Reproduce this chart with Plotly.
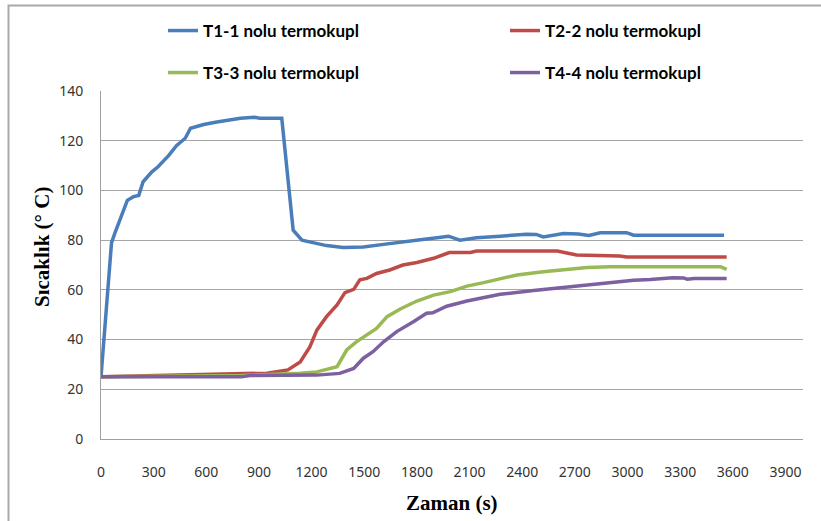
import plotly.graph_objects as go

# ---- data ----
t1_time = [0, 60, 80, 120, 150, 185, 215, 240, 290, 325, 385, 430, 480, 510, 585, 660, 735, 795, 875, 905,
           1030, 1095, 1145, 1200, 1285, 1380, 1495, 1610, 1720, 1820, 1915, 1980, 2045, 2140, 2275, 2425,
           2480, 2520, 2635, 2720, 2780, 2845, 2995, 3035, 3550]
t1_temp = [25, 79, 83, 90, 96, 97.5, 98, 103.5, 107.5, 109.5, 114, 118, 121, 125, 126.5, 127.5, 128.3, 129, 129.4, 129,
           129, 84, 80, 79.2, 77.8, 77, 77.2, 78.3, 79.4, 80.2, 81, 81.6, 80, 81, 81.6, 82.4,
           82.3, 81.3, 82.7, 82.5, 81.9, 83, 83, 82, 82]

t2_time = [0, 400, 750, 945, 1065, 1135, 1190, 1230, 1285, 1345, 1390, 1440, 1475, 1515, 1570, 1645, 1720,
           1800, 1895, 1985, 2105, 2140, 2600, 2710, 2955, 2995, 3565]
t2_temp = [25, 25.5, 26, 26.5, 27.8, 31, 37, 43.8, 49.2, 53.9, 58.9, 60.2, 64, 64.6, 66.6, 68, 70,
           71, 72.7, 75, 75, 75.6, 75.6, 74, 73.6, 73.2, 73.2]

t3_time = [0, 800, 1135, 1230, 1345, 1400, 1455, 1515, 1570, 1630, 1705, 1800, 1895, 1990, 2085, 2180, 2275,
           2370, 2520, 2655, 2770, 2900, 3530, 3565]
t3_temp = [25, 25.5, 26.5, 27, 29.1, 35.8, 39.1, 41.8, 44.5, 49.2, 52.3, 55.5, 57.9, 59.3, 61.5, 62.9, 64.4,
           66, 67.3, 68.2, 69, 69.3, 69.3, 68.2]

t4_time = [0, 800, 850, 1230, 1360, 1440, 1495, 1550, 1610, 1685, 1780, 1855, 1890, 1970, 2085, 2275, 2465,
           2690, 2845, 3035, 3130, 3260, 3320, 3340, 3380, 3565]
t4_temp = [25, 25, 25.5, 25.7, 26.4, 28.4, 32.5, 35.1, 39.1, 43.2, 47.2, 50.6, 50.8, 53.4, 55.5, 58.2, 59.7,
           61.3, 62.6, 63.9, 64.2, 64.9, 64.8, 64.3, 64.6, 64.6]

names = ["T1-1 nolu termokupl", "T2-2 nolu termokupl", "T3-3 nolu termokupl", "T4-4 nolu termokupl"]
colors = ["#4A7EBB", "#BE4B48", "#98B954", "#7D60A0"]

x_ticks = list(range(0, 4000, 300))
y_ticks = list(range(0, 141, 20))

# ---- figure ----
fig = go.Figure()
series = [(t1_time, t1_temp), (t2_time, t2_temp), (t3_time, t3_temp), (t4_time, t4_temp)]
legend_ids = ["legend", "legend2", "legend3", "legend4"]
for (xs, ys), name, col, lg in zip(series, names, colors, legend_ids):
    fig.add_trace(go.Scatter(x=xs, y=ys, mode="lines", name=name, legend=lg,
                             line=dict(color=col, width=3.5)))

L, R, T, B = 101, 18, 91, 82
W, H = 821, 521
pw, ph = W - L - R, H - T - B

def px(xp):
    return (xp - L) / pw

def py(yp):
    return (H - B - yp) / ph

tick_font = dict(family="Noto Sans, Liberation Sans, sans-serif", size=14, color="#333333")
leg_font = dict(family="Lato, Open Sans, sans-serif", size=17, color="#000000", weight="bold")

leg_pos = [(163, 31), (505, 31), (163, 73), (505, 73)]
legend_cfg = {}
for lg, (lx, ly) in zip(legend_ids, leg_pos):
    legend_cfg[lg] = dict(orientation="h", x=px(lx), xanchor="left", y=py(ly), yanchor="middle",
                          font=leg_font, bgcolor="rgba(0,0,0,0)", itemwidth=30)

fig.update_layout(
    width=W, height=H,
    margin=dict(l=L, r=R, t=T, b=B, autoexpand=False),
    paper_bgcolor="white", plot_bgcolor="white",
    showlegend=True,
    **legend_cfg,
    xaxis=dict(range=[0, 4000], tickmode="array", tickvals=x_ticks, ticktext=[str(v) for v in x_ticks],
               showgrid=False, zeroline=False, showline=True, linecolor="#A0A0A0", linewidth=1,
               ticks="", tickfont=tick_font, ticklabelstandoff=20, automargin=False),
    yaxis=dict(range=[0, 140], tickmode="array", tickvals=y_ticks, ticktext=[str(v) for v in y_ticks],
               showgrid=True, gridcolor="#A6A6A6", gridwidth=1, zeroline=False,
               showline=True, linecolor="#A0A0A0", linewidth=1,
               ticks="", tickfont=tick_font, ticklabelstandoff=14, automargin=False),
    annotations=[
        dict(text="<b>Zaman (s)</b>", xref="paper", yref="paper", x=px(452), y=py(503),
             xanchor="center", yanchor="middle", showarrow=False,
             font=dict(family="Liberation Serif, Times New Roman, serif", size=21, color="#000000")),
        dict(text="<b>Sıcaklık (° C)</b>", xref="paper", yref="paper", x=px(42), y=py(247),
             xanchor="center", yanchor="middle", showarrow=False, textangle=-90,
             font=dict(family="Liberation Serif, Times New Roman, serif", size=21, color="#000000")),
    ],
    shapes=[
        dict(type="rect", xref="paper", yref="paper", x0=px(8.5), x1=px(840), y0=py(540), y1=py(5.5),
             line=dict(color="#A9A9A9", width=2), fillcolor="rgba(0,0,0,0)", layer="below"),
    ],
)

fig.write_html("out.html", config={"displayModeBar": False},
               post_script="document.body.style.margin='0';")
